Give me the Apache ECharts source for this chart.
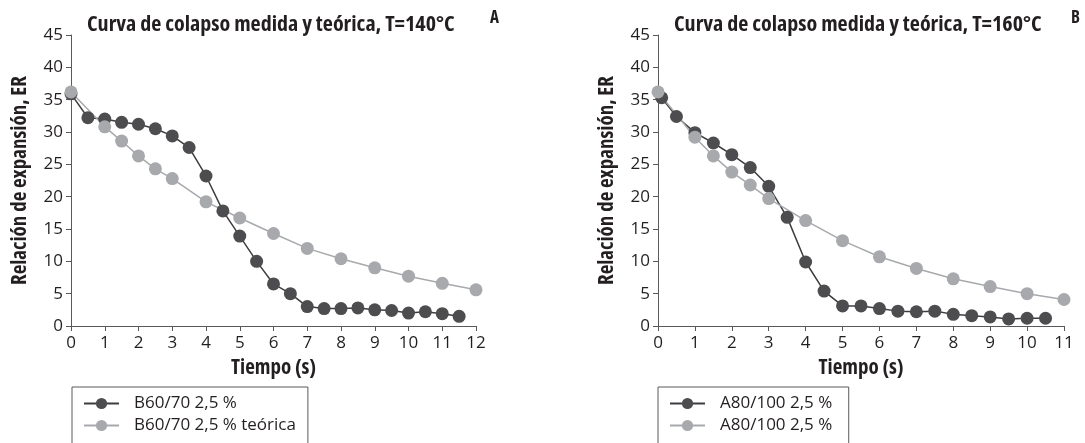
<!DOCTYPE html>
<html>
<head>
<meta charset="utf-8">
<script src="https://cdn.jsdelivr.net/npm/echarts@6/dist/echarts.min.js"></script>
<style>
  html, body { margin: 0; padding: 0; background: #fff; }
  #chart { width: 1085px; height: 443px; }
</style>
</head>
<body>
<div id="chart"></div>
<script>
// Gráfico A: T=140°C
const tiempoMedA = [0, 0.5, 1, 1.5, 2, 2.5, 3, 3.5, 4, 4.5, 5, 5.5, 6, 6.5, 7, 7.5, 8, 8.5, 9, 9.5, 10, 10.5, 11, 11.5];
const erMedA = [35.9, 32.2, 32.0, 31.5, 31.2, 30.5, 29.4, 27.6, 23.2, 17.8, 13.9, 10.0, 6.5, 5.0, 3.0, 2.7, 2.7, 2.8, 2.5, 2.4, 2.0, 2.2, 1.9, 1.5];
const tiempoTeoA = [0, 1, 1.5, 2, 2.5, 3, 4, 5, 6, 7, 8, 9, 10, 11, 12];
const erTeoA = [36.2, 30.8, 28.6, 26.3, 24.3, 22.8, 19.2, 16.7, 14.3, 12.0, 10.4, 9.0, 7.7, 6.6, 5.6];

// Gráfico B: T=160°C
const tiempoMedB = [0.1, 0.5, 1, 1.5, 2, 2.5, 3, 3.5, 4, 4.5, 5, 5.5, 6, 6.5, 7, 7.5, 8, 8.5, 9, 9.5, 10, 10.5];
const erMedB = [35.3, 32.4, 29.9, 28.3, 26.5, 24.5, 21.6, 16.8, 9.9, 5.4, 3.1, 3.1, 2.7, 2.3, 2.2, 2.3, 1.8, 1.6, 1.4, 1.1, 1.2, 1.2];
const tiempoTeoB = [0, 1, 1.5, 2, 2.5, 3, 4, 5, 6, 7, 8, 9, 10, 11];
const erTeoB = [36.2, 29.2, 26.3, 23.8, 21.8, 19.7, 16.3, 13.2, 10.7, 8.9, 7.3, 6.1, 5.0, 4.1];

const nombres = ['B60/70 2,5 %', 'B60/70 2,5 % teórica', 'A80/100 2,5 %', 'A80/100 2,5 % '];
const titulos = ['Curva de colapso medida y teórica, T=140°C', 'Curva de colapso medida y teórica, T=160°C'];

// Open Sans con "condensed" en el peso para sacar la variante estrecha
const fuente = "'Open Sans', sans-serif";
const negrita = 'bold condensed';
const texto = '#231f20';
const oscuro = '#4d4d4f';
const claro = '#a7a9ac';

const par = (xs, ys) => xs.map((x, i) => [x, ys[i]]);

function ejeX(idx, max) {
  return {
    type: 'value', gridIndex: idx, min: 0, max: max, interval: 1,
    name: 'Tiempo (s)', nameLocation: 'middle', nameGap: 32,
    nameTextStyle: { fontFamily: fuente, fontWeight: negrita, fontSize: 21, color: texto },
    axisLine: { lineStyle: { color: '#58595b', width: 1 } },
    axisTick: { length: 5, lineStyle: { color: '#58595b' } },
    axisLabel: { fontFamily: fuente, fontSize: 17, color: texto, margin: 9 },
    splitLine: { show: false }
  };
}

function ejeY(idx) {
  return {
    type: 'value', gridIndex: idx, min: 0, max: 45, interval: 5,
    name: 'Relación de expansión, ER', nameLocation: 'middle', nameGap: 40,
    nameTextStyle: { fontFamily: fuente, fontWeight: negrita, fontSize: 21, color: texto },
    axisLine: { show: true, lineStyle: { color: '#58595b', width: 1 } },
    axisTick: { show: true, length: 5, lineStyle: { color: '#58595b' } },
    axisLabel: { fontFamily: fuente, fontSize: 17, color: texto, margin: 8 },
    splitLine: { show: false }
  };
}

function serie(nombre, datos, color, lineColor, idx) {
  return {
    name: nombre, type: 'line', xAxisIndex: idx, yAxisIndex: idx,
    data: datos, symbol: 'circle', symbolSize: 13,
    itemStyle: { color: color },
    lineStyle: { color: lineColor, width: 1.5 },
    emphasis: { disabled: true }
  };
}

function leyenda(left, nombresLey) {
  return {
    data: nombresLey, left: left, top: 387, height: 200, orient: 'vertical',
    itemWidth: 35, itemHeight: 14, itemGap: 5,
    padding: [8, 12, 80, 11],
    borderColor: '#58595b', borderWidth: 1,
    textStyle: { fontFamily: fuente, fontSize: 17, color: texto, padding: [0, 0, 0, 10] }
  };
}

const estiloTitulo = { fontFamily: fuente, fontWeight: negrita, fontSize: 22, color: texto };
const estiloLetra = { fontFamily: fuente, fontWeight: negrita, fontSize: 17, color: texto };

const chart = echarts.init(document.getElementById('chart'));
chart.setOption({
  animation: false,
  title: [
    { text: titulos[0], left: 87, top: 14, padding: 0, textStyle: estiloTitulo },
    { text: titulos[1], left: 674, top: 14, padding: 0, textStyle: estiloTitulo },
    { text: 'A', left: 490, top: 10, padding: 0, textStyle: estiloLetra },
    { text: 'B', left: 1071, top: 10, padding: 0, textStyle: estiloLetra }
  ],
  grid: [
    { left: 71, top: 35, width: 405, height: 291 },
    { left: 658, top: 35, width: 406, height: 291 }
  ],
  xAxis: [ejeX(0, 12), ejeX(1, 11)],
  yAxis: [ejeY(0), ejeY(1)],
  legend: [leyenda(72, nombres.slice(0, 2)), leyenda(658, nombres.slice(2, 4))],
  series: [
    serie(nombres[0], par(tiempoMedA, erMedA), oscuro, '#3d3d3f', 0),
    serie(nombres[1], par(tiempoTeoA, erTeoA), claro, '#a7a9ac', 0),
    serie(nombres[2], par(tiempoMedB, erMedB), oscuro, '#3d3d3f', 1),
    serie(nombres[3], par(tiempoTeoB, erTeoB), claro, '#a7a9ac', 1)
  ]
});
</script>
</body>
</html>
